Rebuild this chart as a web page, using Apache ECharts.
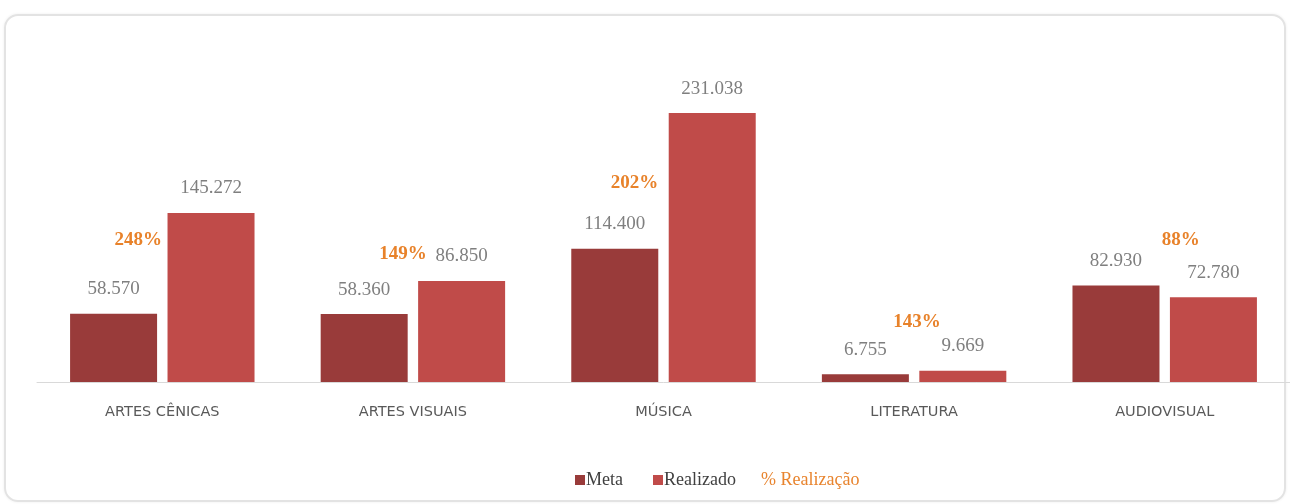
<!DOCTYPE html>
<html>
<head>
<meta charset="utf-8">
<script src="https://cdn.jsdelivr.net/npm/echarts@6/dist/echarts.min.js"></script>
<style>
  html, body { margin: 0; padding: 0; background: #fff; overflow: hidden; }
  #panel {
    position: absolute; left: 4px; top: 14px; width: 1278px; height: 484px;
    border: 2px solid #e3e3e3; border-radius: 14px; box-shadow: 0 0 3px #eee;
  }
  #chart { position: absolute; left: 0; top: 0; width: 1290px; height: 504px; }
</style>
</head>
<body>
<div id="panel"></div>
<div id="chart"></div>
<script>
// dados
var categorias = ['ARTES CÊNICAS', 'ARTES VISUAIS', 'MÚSICA', 'LITERATURA', 'AUDIOVISUAL'];
var meta = [58570, 58360, 114400, 6755, 82930];
var realizado = [145272, 86850, 231038, 9669, 72780];
var percentual = [248, 149, 202, 143, 88];
// deslocamento dos rótulos de % (posicionados à mão no original)
var pctOffset = [[-24, 99], [-10, 17], [-29, -3], [3, 79], [16, -57]];

var fmt = function(v) {
    return String(v).replace(/\B(?=(\d{3})+(?!\d))/g, '.');
};

var myChart = echarts.init(document.getElementById('chart'));
var valueLabel = {
    show: true,
    position: 'top',
    distance: 15,
    color: '#7f7f7f',
    fontFamily: 'Liberation Serif',
    fontSize: 19,
    formatter: function(p) { return fmt(p.value); }
};
var legendText = { fontFamily: 'Liberation Serif', fontSize: 18, color: '#404040', padding: [0, 0, 0, -4] };

var option = {
    animation: false,
    grid: { left: 37, right: -8, top: 91, bottom: 122 },
    legend: [
        {
            left: 570,
            top: 466,
            itemWidth: 10,
            itemHeight: 10,
            itemGap: 30,
            textStyle: legendText,
            data: [
                { name: 'Meta', icon: 'rect' },
                { name: 'Realizado', icon: 'rect' }
            ]
        },
        {
            left: 745,
            top: 466,
            itemWidth: 10,
            itemHeight: 10,
            textStyle: legendText,
            data: [
                { name: '% Realização', icon: 'none', textStyle: { color: '#e8842e' } }
            ]
        }
    ],
    xAxis: {
        type: 'category',
        data: categorias,
        axisTick: { show: false },
        axisLine: { lineStyle: { color: '#d9d9d9', width: 1 } },
        axisLabel: {
            margin: 23,
            color: '#595959',
            fontFamily: 'DejaVu Sans',
            fontSize: 14.5
        }
    },
    yAxis: [
        { type: 'value', min: 0, max: 250000, show: false, splitLine: { show: false } },
        { type: 'value', min: 0, max: 300, show: false, splitLine: { show: false } }
    ],
    series: [
        {
            name: 'Meta',
            type: 'bar',
            data: meta,
            barWidth: 87,
            barGap: '12%',
            itemStyle: { color: '#993b3a' },
            label: valueLabel
        },
        {
            name: 'Realizado',
            type: 'bar',
            data: realizado,
            barWidth: 87,
            itemStyle: { color: '#c04b49' },
            label: valueLabel
        },
        {
            name: '% Realização',
            type: 'line',
            yAxisIndex: 1,
            symbol: 'circle',
            symbolSize: 1,
            showSymbol: true,
            lineStyle: { opacity: 0 },
            itemStyle: { color: 'rgba(0,0,0,0)' },
            data: percentual.map(function(v, i) {
                return { value: v, label: { offset: pctOffset[i] } };
            }),
            label: {
                show: true,
                position: 'inside',
                color: '#e8822a',
                fontFamily: 'Liberation Serif',
                fontWeight: 'bold',
                fontSize: 19,
                formatter: '{c}%'
            }
        }
    ]
};
myChart.setOption(option);
</script>
</body>
</html>
